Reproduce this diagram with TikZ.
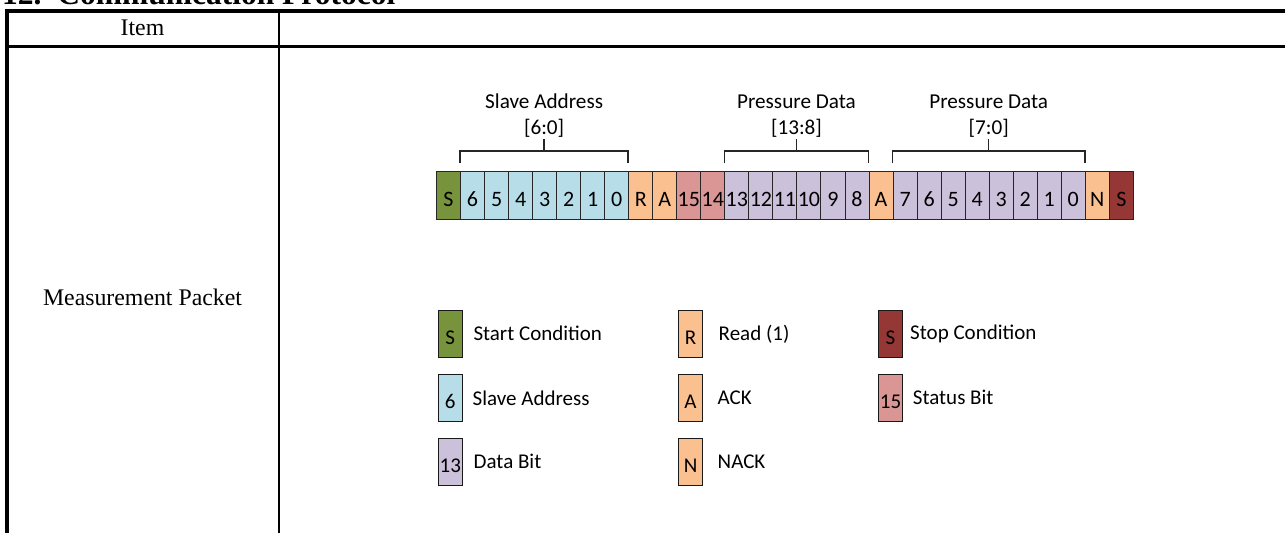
\documentclass[tikz,border=0pt]{standalone}
\usepackage{fontspec}
\setmainfont{Liberation Serif}
\newfontfamily\calib{Carlito}
\usetikzlibrary{calc}
\definecolor{cStart}{HTML}{77933C}
\definecolor{cAddr}{HTML}{B7DEE8}
\definecolor{cAck}{HTML}{FAC090}
\definecolor{cStat}{HTML}{D99694}
\definecolor{cData}{HTML}{CCC1DA}
\definecolor{cStop}{HTML}{953735}
\begin{document}
\begin{tikzpicture}[x=1pt,y=-1pt,
  cellbox/.style={draw=black!85, line width=1pt, minimum width=24.03pt, minimum height=48pt,
    inner sep=0pt, anchor=north west, font=\calib\fontsize{22pt}{24pt}\selectfont,
    text height=22pt, text depth=0pt},
  legbox/.style={draw=black!90, line width=1.5pt, minimum width=24pt, minimum height=47pt,
    inner sep=0pt, anchor=north west, font=\calib\fontsize{21pt}{24pt}\selectfont,
    text height=21pt, text depth=0pt},
  legtext/.style={anchor=base west, inner sep=0pt, font=\calib\fontsize{21pt}{24pt}\selectfont},
  brlabel/.style={anchor=base, inner sep=0pt, font=\calib\fontsize{21.2pt}{24pt}\selectfont},
  bracket/.style={line width=1.5pt, draw=black!85},
  tabthick/.style={line width=3.2pt},
  tabthin/.style={line width=2pt},
  tabtext/.style={anchor=base, inner sep=0pt, font=\fontsize{23.8pt}{27pt}\selectfont}]
\useasboundingbox (0,0) rectangle (1285,533);
% title (clipped at the top edge as in the reference)
\node[anchor=base west, inner sep=0pt, font=\fontsize{31.5pt}{36pt}\selectfont\bfseries] (title) at (2,4) {12.\ \ Communication Protocol};
% table
\coordinate (tl) at (5,11);
\coordinate (tr) at (1285,11);
\coordinate (ml) at (5,46.7);
\coordinate (mr) at (1285,46.7);
\coordinate (lt) at (7,9.4);
\coordinate (lb) at (7,533);
\coordinate (dt) at (279,11);
\coordinate (db) at (279,533);
\draw[tabthick] (tl) -- (tr);
\draw[tabthick] (ml) -- (mr);
\draw[line width=4pt] (lt) -- (lb);
\draw[tabthin] (dt) -- (db);
\node[tabtext] (item) at (142.5,35) {Item};
\node[tabtext] (mp) at (142.5,305) {Measurement Packet};
% packet cells
\foreach \lab/\col [count=\i from 0] in {S/cStart,6/cAddr,5/cAddr,4/cAddr,3/cAddr,2/cAddr,1/cAddr,0/cAddr,
  R/cAck,A/cAck,15/cStat,14/cStat,13/cData,12/cData,11/cData,10/cData,9/cData,8/cData,A/cAck,
  7/cData,6/cData,5/cData,4/cData,3/cData,2/cData,1/cData,0/cData,N/cAck,S/cStop}
  {\node[cellbox, fill=\col] (c\i) at ({436+\i*24.03},171) {\lab};}
% brackets
\foreach \a/\b/\n in {1/8/sa,12/18/pd,19/27/pe}{
  \coordinate (\n1) at ([yshift=8pt]c\a.north west);
  \coordinate (\n2) at ([yshift=20pt]c\a.north west);
  \coordinate (\n3) at ([yshift=20pt]c\b.north west);
  \coordinate (\n4) at ([yshift=8pt]c\b.north west);
  \coordinate (\n m) at ($(\n2)!0.5!(\n3)$);
  \coordinate (\n t) at ([yshift=12pt]\n m);
  \draw[bracket] (\n1) -- (\n2) -- (\n3) -- (\n4);
  \draw[bracket] (\n m) -- (\n t);
}
\node[brlabel] (la1) at ([yshift=43pt]sam) {Slave Address};
\node[brlabel] (la2) at ([yshift=17pt]sam) {[6:0]};
\node[brlabel] (lb1) at ([yshift=43pt]pdm) {Pressure Data};
\node[brlabel] (lb2) at ([yshift=17pt]pdm) {[13:8]};
\node[brlabel] (lc1) at ([yshift=43pt]pem) {Pressure Data};
\node[brlabel] (lc2) at ([yshift=17pt]pem) {[7:0]};
% legend
\node[legbox, fill=cStart] (k1) at (437.5,309.5) {S};
\node[legbox, fill=cAddr] (k2) at (437.5,373.5) {6};
\node[legbox, fill=cData] (k3) at (437.5,437.5) {13};
\node[legbox, fill=cAck] (k4) at (677.8,309.5) {R};
\node[legbox, fill=cAck] (k5) at (677.8,373.5) {A};
\node[legbox, fill=cAck] (k6) at (677.8,437.5) {N};
\node[legbox, fill=cStop] (k7) at (877.8,309.5) {S};
\node[legbox, fill=cStat] (k8) at (877.8,373.5) {15};
\node[legtext] (t1) at (473.3,340) {Start Condition};
\node[legtext] (t2) at (472.5,405) {Slave Address};
\node[legtext] (t3) at (473.5,468.3) {Data Bit};
\node[legtext] (t4) at (718.5,340) {Read (1)};
\node[legtext] (t5) at (717.5,404) {ACK};
\node[legtext] (t6) at (717.5,468) {NACK};
\node[legtext] (t7) at (910,339.5) {Stop Condition};
\node[legtext] (t8) at (912.7,404.3) {Status Bit};
\end{tikzpicture}
\end{document}
